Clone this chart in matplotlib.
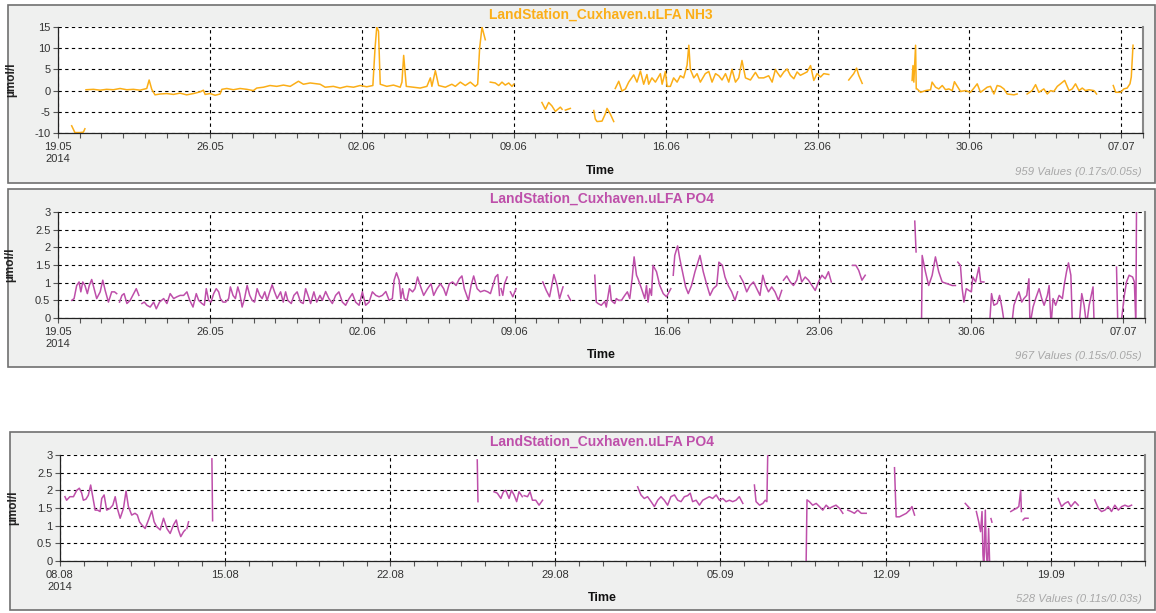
import numpy as np
import matplotlib
matplotlib.use('Agg')
import matplotlib.pyplot as plt
import matplotlib.dates as mdates
from matplotlib.patches import Rectangle
from datetime import datetime

nan = np.nan

# --- NH3, days after 19.05.2014 ---
nh3_days = [0.63, 0.78, 1.01, 1.17, 1.24, nan,
    1.29, 1.63, 1.94, 2.24, 2.55, 2.86, 3.17, 3.47, 3.78, 4.09, 4.2, 4.32, 4.47, 4.7, 5.01, 5.32, 5.62, 5.93,
    6.24, 6.55, 6.7, 6.78, 7.01, 7.24, 7.47, 7.55, 7.78, 8.08, 8.39, 8.7, 9.0, 9.16, 9.47, 9.77, 10.08, 10.39,
    10.7, 11.08, 11.31, 11.62, 12.08, 12.31, 12.69, 13.0, 13.31, 13.62, 13.92, 14.23, 14.51, 14.61, 14.69, 14.77,
    14.85, 15.15, 15.46, 15.77, 15.85, 15.93, 16.05, 16.39, 16.69, 17.0, 17.16, 17.23, 17.39, 17.54, 17.85, 18.15,
    18.31, 18.54, 18.77, 19.0, 19.23, 19.34, 19.43, 19.54, 19.69, nan,
    19.92, 20.15, 20.31, 20.46, 20.61, 20.77, 20.92, 21.0, nan,
    22.3, 22.46, 22.61, 22.76, 22.92, 23.15, 23.23, nan, 23.38, 23.61, nan,
    24.69, 24.76, 24.84, 25.07, 25.22, 25.3, 25.45, 25.61, nan,
    25.68, 25.84, 25.99, 26.15, 26.3, 26.53, 26.68, 26.84, 26.99, 27.14, 27.22, 27.37, 27.53, 27.76, 27.84, 27.99,
    28.07, 28.22, 28.37, 28.53, 28.68, 28.83, 28.99, 29.07, 29.14, 29.3, 29.45, 29.6, 29.83, 29.99, 30.14, 30.3,
    30.45, 30.6, 30.76, 30.91, 31.06, 31.22, 31.37, 31.52, 31.68, 31.91, 32.14, 32.29, 32.52, 32.75, 32.91, 33.06,
    33.14, 33.29, 33.45, 33.6, 33.75, 33.91, 34.06, 34.21, 34.37, 34.52, 34.68, 34.83, 34.98, 35.14, 35.29, 35.52, nan,
    36.44, 36.67, 36.8, 36.9, 37.06, nan,
    39.36, 39.4, 39.44, 39.52, 39.55, 39.59, 39.75, 39.98, 40.21, 40.28, 40.44, 40.59, 40.75, 40.9, 41.05, 41.21,
    41.31, 41.47, 41.59, 41.82, 42.05, 42.21, 42.36, 42.51, 42.67, 42.82, 42.97, 43.13, 43.28, 43.43, 43.59, 43.74,
    44.05, 44.2, nan,
    44.66, 44.89, 45.05, 45.2, 45.43, 45.59, 45.74, 45.89, 46.05, 46.2, 46.39, 46.59, 46.74, 46.89, 47.05, 47.2,
    47.35, 47.51, 47.74, 47.86, nan,
    48.63, 48.74, 48.97, 49.12, 49.27, 49.4, 49.46, 49.54]
nh3_vals = [-8.3, -9.9, -9.9, -9.8, -9.0, nan,
    0.2, 0.3, 0.1, 0.3, 0.2, 0.5, 0.2, 0.3, 0.1, 0.5, 2.5, 0.3, -1.0, -0.8, -0.7, -0.9, -0.6, -1.0,
    -0.7, -0.3, 0.1, -0.9, -0.7, -1.1, -0.8, 0.3, 0.5, 0.2, 0.5, 0.3, 0.0, 0.6, 0.8, 1.2, 1.0, 1.3,
    1.0, 2.2, 1.5, 1.8, 1.5, 0.8, 1.0, 0.6, 1.0, 0.8, 1.2, 0.9, 1.2, 10.0, 15.0, 14.0,
    1.5, 1.0, 1.3, 0.8, 2.0, 8.3, 1.0, 0.8, 0.6, 1.0, 3.0, 1.0, 4.7, 1.2, 0.8, 1.5,
    1.0, 2.0, 1.2, 2.0, 1.0, 1.5, 10.0, 15.0, 12.0, nan,
    2.0, 1.8, 1.2, 2.0, 1.3, 1.8, 1.0, 1.5, nan,
    -2.8, -4.4, -2.8, -3.6, -4.9, -3.9, -4.4, nan, -4.6, -4.2, nan,
    -4.7, -6.7, -7.3, -7.2, -5.5, -4.2, -5.5, -7.3, nan,
    0.5, 2.2, -0.1, 0.4, 2.0, 3.7, 2.0, 4.6, 1.5, 3.8, 1.5, 3.0, 2.0, 4.0, 1.5, 4.5,
    1.0, 1.0, 3.0, 2.0, 3.5, 3.0, 6.0, 10.7, 5.0, 3.0, 4.0, 2.0, 4.0, 4.5, 2.0, 4.0,
    3.5, 2.5, 4.0, 2.0, 5.0, 2.0, 3.0, 7.1, 3.0, 2.5, 4.3, 3.0, 3.0, 3.5, 2.0, 5.0,
    4.3, 3.2, 4.4, 5.1, 3.6, 2.8, 4.4, 3.6, 4.0, 4.4, 5.9, 2.4, 4.0, 3.2, 4.0, 3.8, nan,
    2.5, 4.0, 5.3, 3.6, 1.7, nan,
    2.4, 5.9, 2.0, 10.7, 0.4, 0.4, -0.4, 0.0, 0.2, 2.0, 0.8, 0.4, 1.2, 0.2, 0.4, 0.0,
    2.1, 0.8, -0.2, 0.0, -0.4, 0.6, 1.6, -0.4, 0.2, 0.8, 1.0, -0.8, 1.2, 1.0, 0.4, -0.8,
    -1.0, -0.8, nan,
    -0.8, 0.0, 1.4, -0.4, 0.4, -0.8, 0.0, -0.2, 1.0, 1.6, 2.4, 0.0, 0.4, 1.6, 0.0, 0.6,
    0.0, 0.2, 0.0, -0.8, nan,
    1.2, -0.4, -0.4, 0.4, 0.6, 1.6, 3.2, 10.7]

# --- PO4, days after 19.05.2014 ---
po4a_days = [0.63, 0.74, 0.86, 0.97, 1.05, 1.14, 1.24, 1.35, 1.44, 1.55, 1.66, 1.78, 1.94, 2.06, 2.17, 2.32, 2.47, 2.6, 2.7, nan,
    2.83, 2.94, 3.04, 3.17, 3.32, 3.44, 3.6, 3.72, nan,
    3.86, 3.97, 4.09, 4.24, 4.4, 4.52, 4.67, 4.86, 5.01, 5.16, 5.32, 5.47, 5.62, 5.78, 5.93, 6.06, 6.21, 6.36,
    6.47, 6.62, 6.73, 6.82, 6.93, 7.04, 7.16, 7.28, 7.39, 7.47, 7.59, 7.71, 7.85, 7.93, 8.05, 8.16, 8.27, 8.36,
    8.47, 8.58, 8.7, 8.82, 8.93, 9.04, 9.16, 9.28, 9.39, 9.51, 9.62, 9.74, 9.85, 9.96, 10.08, 10.24, 10.36, 10.47,
    10.57, 10.73, 10.85, 11.0, 11.16, 11.28, 11.39, 11.5, 11.62, 11.77, 11.9, 12.05, 12.16, 12.31, 12.46, 12.62,
    12.77, 12.92, 13.08, 13.23, 13.39, 13.54, 13.69, 13.85, 14.0, 14.15, 14.31, 14.46, 14.62, 14.77, 14.92, 15.08,
    15.23, 15.38, 15.46, 15.57, 15.69, 15.77, 15.85, 15.93, 16.05, 16.16, 16.31, 16.42, 16.54, 16.66, 16.82, 17.0,
    17.16, 17.28, 17.43, 17.59, 17.74, 17.85, 18.0, 18.15, 18.31, 18.46, 18.58, 18.69, 18.88, 19.0, 19.12, 19.28,
    19.43, 19.61, 19.77, 19.89, 20.0, 20.12, 20.23, 20.31, nan,
    20.38, 20.46, 20.54, 20.66, nan, 20.81, 20.92, 21.07, nan,
    22.3, 22.46, 22.61, 22.81, 22.96, 23.07, 23.23, nan, 23.46, 23.58, nan,
    24.69, 24.76, 24.84, 24.99, 25.15, 25.22, 25.38, 25.45, 25.53, 25.61, 25.68, 25.79, 25.92, 26.07, 26.19, 26.3,
    26.41, 26.5, 26.61, 26.68, 26.84, 26.99, 27.07, 27.14, 27.22, 27.3, 27.37, 27.53, 27.68, 27.84, 27.99, 28.19, nan,
    28.3, 28.37, 28.5, 28.6, 28.76, 28.87, 28.99, 29.14, 29.3, 29.53, 29.68, 29.83, 29.99, 30.14, 30.3, 30.4,
    30.56, 30.68, 30.83, 30.99, 31.14, 31.26, nan,
    31.37, 31.52, 31.68, 31.83, 31.99, 32.14, 32.29, 32.42, 32.55, 32.68, 32.83, 32.98, 33.14, 33.29, nan,
    33.37, 33.52, 33.68, 33.83, 33.98, 34.09, 34.21, 34.37, 34.52, 34.68, 34.83, 34.98, 35.14, 35.29, 35.44, 35.57, nan,
    36.55, 36.7, 36.83, 36.98, 37.13, nan, 39.41, 39.47, nan,
    39.72, 39.75, 39.9, 40.05, 40.21, 40.36, 40.51, 40.67, 40.9, 41.13, 41.28, nan,
    41.39, 41.51, 41.59, 41.67, 41.78, 41.9, 42.01, 42.08, 42.21, 42.36, 42.44, 42.59, nan,
    42.85, 42.94, 43.05, 43.2, 43.31, 43.43, 43.54, nan,
    43.87, 43.97, 44.13, 44.2, 44.33, 44.43, 44.56, 44.66, 44.71, 44.85, 44.97, 45.13, 45.25, 45.36, 45.51, 45.59,
    45.68, 45.77, 45.89, 46.05, 46.2, 46.28, 46.39, 46.48, 46.59, 46.66, nan,
    46.97, 47.09, 47.2, 47.31, 47.43, 47.61, 47.66, nan, 48.69, 48.75, nan,
    48.89, 49.05, 49.15, 49.27, 49.43, 49.51, 49.58, 49.61]
po4a_vals = [0.5, 0.55, 0.92, 1.02, 0.74, 1.02, 0.92, 0.69, 0.92, 1.09, 0.83, 0.55, 0.74, 1.07, 0.78, 0.45, 0.74, 0.74, 0.69, nan,
    0.45, 0.64, 0.69, 0.41, 0.5, 0.64, 0.83, 0.64, nan,
    0.41, 0.45, 0.36, 0.31, 0.45, 0.26, 0.45, 0.55, 0.41, 0.69, 0.55, 0.6, 0.64, 0.64, 0.74, 0.5, 0.31, 0.69,
    0.5, 0.41, 0.36, 0.83, 0.5, 0.45, 0.69, 0.83, 0.74, 0.55, 0.45, 0.45, 0.55, 0.88, 0.64, 0.55, 0.88, 0.69,
    0.31, 0.55, 0.92, 0.64, 0.5, 0.45, 0.83, 0.64, 0.55, 0.74, 0.5, 0.74, 0.94, 0.74, 0.55, 0.74, 0.45, 0.74,
    0.5, 0.41, 0.64, 0.74, 0.45, 0.41, 0.83, 0.64, 0.41, 0.74, 0.45, 0.64, 0.5, 0.75, 0.55, 0.41,
    0.64, 0.74, 0.45, 0.36, 0.55, 0.69, 0.45, 0.36, 0.74, 0.36, 0.45, 0.74, 0.64, 0.6, 0.64, 0.75,
    0.5, 0.55, 1.07, 1.28, 1.07, 0.55, 0.83, 0.55, 0.5, 0.83, 0.74, 0.83, 1.16, 0.92, 0.64, 0.83,
    0.97, 0.64, 0.83, 0.97, 0.83, 0.64, 0.97, 1.02, 0.92, 1.11, 1.19, 0.83, 0.5, 0.92, 1.19, 0.83,
    0.74, 0.78, 0.74, 0.69, 0.92, 1.16, 1.23, 0.64, nan,
    0.83, 0.64, 0.97, 1.16, nan, 0.74, 0.6, 0.83, nan,
    1.02, 0.78, 0.6, 1.23, 0.92, 0.55, 0.88, nan, 0.64, 0.5, nan,
    1.21, 0.45, 0.41, 0.36, 0.47, 0.31, 0.92, 0.5, 0.45, 0.41, 0.55, 0.5, 0.5, 0.64, 0.74, 0.55,
    1.11, 1.73, 1.21, 1.11, 0.83, 0.55, 0.92, 0.45, 0.83, 0.64, 1.49, 1.31, 0.92, 0.69, 0.6, 0.83, nan,
    1.21, 1.77, 2.04, 1.68, 1.21, 0.88, 0.69, 0.92, 1.31, 1.77, 1.31, 0.97, 0.64, 0.83, 0.92, 1.58,
    1.49, 1.16, 0.92, 0.74, 0.5, 0.74, nan,
    1.19, 1.02, 0.74, 0.92, 1.02, 0.83, 0.64, 1.21, 0.92, 0.74, 0.88, 0.74, 0.5, 0.78, nan,
    1.07, 1.19, 1.02, 0.92, 1.07, 1.35, 1.02, 1.16, 1.07, 0.92, 0.78, 1.02, 1.21, 1.11, 1.31, 1.02, nan,
    1.49, 1.49, 1.35, 1.07, 1.21, nan, 2.74, 1.87, nan,
    -0.2, 1.77, 1.31, 0.92, 1.21, 1.73, 1.31, 1.02, 0.97, 0.92, 0.92, nan,
    1.58, 1.49, 0.83, 0.45, 0.83, 0.78, 0.74, 1.16, 1.02, 1.44, 1.02, 1.02, nan,
    -0.2, 0.69, 0.36, 0.41, 0.64, 0.26, -0.2, nan,
    -0.2, 0.36, 0.64, 0.74, 0.45, 0.55, 0.64, 1.11, -0.2, 0.31, 0.55, 0.83, 0.55, 0.36, 0.64, 0.92,
    -0.2, 0.55, 0.36, 0.64, 0.55, 0.92, 1.31, 1.56, 1.21, -0.2, nan,
    -0.2, 0.69, 0.36, -0.2, 0.36, 0.88, -0.2, nan, 1.44, -0.2, nan,
    -0.2, 0.64, 1.02, 1.21, 1.16, 1.02, -0.2, 3.2]

# --- PO4, days after 08.08.2014 ---
po4b_days = [0.21, 0.28, 0.42, 0.57, 0.71, 0.82, 0.92, 0.99, 1.1, 1.2, 1.3, 1.39, 1.49, 1.59, 1.7, 1.77, 1.87, 1.98,
    2.12, 2.24, 2.34, 2.43, 2.55, 2.69, 2.8, 2.9, 3.04, 3.18, 3.28, 3.37, 3.47, 3.61, 3.75, 3.89, 3.99, 4.1,
    4.25, 4.39, 4.53, 4.67, 4.81, 4.93, 5.02, 5.12, 5.24, 5.31, nan, 5.38, 5.45, nan, 6.44, 6.47, nan,
    17.69, 17.72, nan,
    18.4, 18.54, 18.69, 18.8, 18.9, 19.04, 19.14, 19.25, 19.36, 19.46, 19.6, nan,
    19.68, 19.82, 19.93, 20.03, 20.17, 20.31, 20.46, nan,
    24.49, 24.63, 24.77, 24.91, 25.06, 25.2, 25.34, 25.48, 25.62, 25.76, 25.9, 26.05, 26.19, 26.33, 26.47, 26.61,
    26.72, 26.82, 26.97, 27.11, 27.25, 27.39, 27.53, 27.67, 27.82, 27.96, 28.1, 28.24, 28.38, 28.52, 28.66, 28.8,
    28.95, nan,
    29.44, 29.51, 29.66, 29.8, 29.9, 29.97, 30.01, nan,
    31.63, 31.67, 31.77, 31.91, 32.06, 32.2, 32.34, 32.48, 32.62, 32.76, 32.9, 33.05, 33.19, nan,
    33.4, 33.54, 33.68, 33.82, 33.97, 34.18, nan,
    35.38, 35.45, 35.59, 35.74, 35.88, 36.02, 36.12, 36.23, nan,
    38.38, 38.57, nan,
    38.85, 38.95, 39.03, 39.09, 39.13, 39.17, 39.23, 39.27, 39.32, 39.37, 39.42, nan, 39.47, 39.51, nan,
    40.31, 40.41, 40.55, 40.65, 40.73, 40.76, nan, 40.83, 40.9, 41.04, nan,
    42.32, 42.46, 42.6, 42.74, 42.86, 43.03, 43.17, nan,
    43.87, 44.02, 44.16, 44.3, 44.44, 44.58, 44.72, 44.87, 45.01, 45.15, 45.29, 45.43]
po4b_vals = [1.82, 1.72, 1.82, 1.82, 2.0, 2.06, 1.92, 1.72, 1.75, 1.86, 2.15, 1.82, 1.44, 1.44, 1.4, 1.77, 1.87, 1.44,
    1.49, 1.58, 1.82, 1.49, 1.21, 1.49, 1.98, 1.54, 1.3, 1.35, 1.3, 1.11, 1.02, 0.92, 1.16, 1.42, 1.11, 0.97,
    0.88, 1.21, 0.92, 0.78, 1.02, 1.16, 0.88, 0.69, 0.83, 0.88, nan, 0.92, 1.11, nan, 2.89, 1.14, nan,
    2.86, 1.68, nan,
    1.96, 1.92, 1.77, 1.96, 2.0, 1.77, 2.0, 1.87, 1.68, 1.96, 1.82, nan,
    1.85, 1.82, 1.96, 1.72, 1.72, 1.58, 1.72, nan,
    2.1, 1.87, 1.77, 1.82, 1.68, 1.54, 1.72, 1.82, 1.72, 1.58, 1.82, 1.87, 1.72, 1.68, 1.82, 1.85,
    1.92, 1.68, 1.72, 1.58, 1.72, 1.77, 1.82, 1.77, 1.87, 1.72, 1.77, 1.68, 1.72, 1.68, 1.72, 1.82,
    1.63, nan,
    2.15, 1.68, 1.58, 1.63, 1.72, 1.68, 3.2, nan,
    -0.2, 1.73, 1.68, 1.58, 1.63, 1.54, 1.44, 1.58, 1.49, 1.54, 1.58, 1.49, 1.35, nan,
    1.44, 1.4, 1.35, 1.44, 1.35, 1.35, nan,
    2.64, 1.25, 1.25, 1.3, 1.35, 1.44, 1.54, 1.3, nan,
    1.63, 1.49, nan,
    1.4, 1.11, 0.83, 1.4, 0.17, -0.2, 1.44, 0.26, -0.2, 0.92, -0.2, nan, 1.2, 1.1, nan,
    1.4, 1.44, 1.49, 1.54, 2.0, 1.4, nan, 1.16, 1.21, 1.21, nan,
    1.77, 1.54, 1.63, 1.68, 1.54, 1.68, 1.58, nan,
    1.73, 1.49, 1.4, 1.44, 1.54, 1.4, 1.58, 1.44, 1.54, 1.58, 1.54, 1.58]

orange = '#FBAE17'
magenta = '#BE4FAA'
panel_bg = '#EFF0EF'

panels = [
    dict(start=datetime(2014, 5, 19), end=datetime(2014, 7, 8), days=nh3_days, vals=nh3_vals, color=orange,
         title='LandStation_Cuxhaven.uLFA NH3', ylim=(-10, 15), yticks=[-10, -5, 0, 5, 10, 15],
         info='959 Values (0.17s/0.05s)', box=(8, 5, 1155, 183), ax=(58, 27, 1143, 133)),
    dict(start=datetime(2014, 5, 19), end=datetime(2014, 7, 8), days=po4a_days, vals=po4a_vals, color=magenta,
         title='LandStation_Cuxhaven.uLFA PO4', ylim=(0, 3), yticks=[0, 0.5, 1, 1.5, 2, 2.5, 3],
         info='967 Values (0.15s/0.05s)', box=(8, 189, 1155, 367), ax=(58, 212, 1145, 318)),
    dict(start=datetime(2014, 8, 8), end=datetime(2014, 9, 23), days=po4b_days, vals=po4b_vals, color=magenta,
         title='LandStation_Cuxhaven.uLFA PO4', ylim=(0, 3), yticks=[0, 0.5, 1, 1.5, 2, 2.5, 3],
         info='528 Values (0.11s/0.03s)', box=(10, 432, 1155, 610), ax=(60, 455, 1145, 561)),
]

W, H = 1156, 613
fig = plt.figure(figsize=(W / 100, H / 100), dpi=100)
fig.patch.set_facecolor('white')
plt.rcParams['font.family'] = ['Liberation Sans', 'DejaVu Sans']

def yfmt(v, pos):
    return ('%g' % v)

for p in panels:
    bx0, by0, bx1, by1 = p['box']
    fig.patches.append(Rectangle((bx0 / W, 1 - by1 / H), (bx1 - bx0) / W, (by1 - by0) / H,
                                 transform=fig.transFigure, facecolor=panel_bg, edgecolor='#707070',
                                 linewidth=1.2, zorder=-5))
    x0, y0, x1, y1 = p['ax']
    ax = fig.add_axes([x0 / W, 1 - y1 / H, (x1 - x0) / W, (y1 - y0) / H])
    ax.set_zorder(2)
    ax.set_facecolor('white')

    x = mdates.date2num(p['start']) + np.array(p['days'], dtype=float)
    y = np.array(p['vals'], dtype=float)
    ax.plot(x, y, color=p['color'], linewidth=1.1, solid_joinstyle='round')

    first = mdates.date2num(p['start'])
    last = mdates.date2num(p['end'])
    ax.set_xlim(first, last)
    ax.set_ylim(*p['ylim'])
    ax.set_yticks(p['yticks'])
    ax.yaxis.set_major_formatter(plt.FuncFormatter(yfmt))

    ax.set_xticks(np.arange(first, last, 7))
    ax.xaxis.set_minor_locator(mdates.DayLocator())

    def xfmt(v, pos, first=first):
        d = mdates.num2date(v)
        if abs(v - first) < 0.01:
            return d.strftime('%d.%m') + '\n' + d.strftime('%Y')
        return d.strftime('%d.%m')
    ax.xaxis.set_major_formatter(plt.FuncFormatter(xfmt))

    ax.grid(True, which='major', color='black', linestyle=(0, (3, 3)), linewidth=0.8)
    ax.tick_params(axis='both', which='both', direction='out', length=3.5, width=0.8,
                   colors='#555555', labelcolor='#333333', labelsize=8, pad=2)
    ax.tick_params(axis='x', which='major', pad=3)

    for s in ['left', 'bottom']:
        ax.spines[s].set_color('#222222')
        ax.spines[s].set_linewidth(0.9)
    ax.spines['top'].set_visible(False)
    ax.spines['right'].set_color('#888888')
    ax.spines['right'].set_linewidth(1.5)

    ax.set_ylabel('µmol/l', fontsize=8.5, fontweight='bold', color='#222222')
    ax.yaxis.set_label_coords(-0.038, 0.5)

    cx = (x0 + x1) / 2 / W
    fig.text(cx, 1 - (by0 + 10) / H, p['title'], color=p['color'], fontsize=10, fontweight='bold',
             ha='center', va='center')
    fig.text(cx, 1 - (by0 + 166) / H, 'Time', color='#111111', fontsize=9, fontweight='bold',
             ha='center', va='center')
    fig.text((bx1 - 13) / W, 1 - (by0 + 167) / H, p['info'], color='#A8A8A8', fontsize=8.2,
             style='italic', ha='right', va='center')

fig.savefig('out.png', dpi=100, facecolor=fig.get_facecolor())
